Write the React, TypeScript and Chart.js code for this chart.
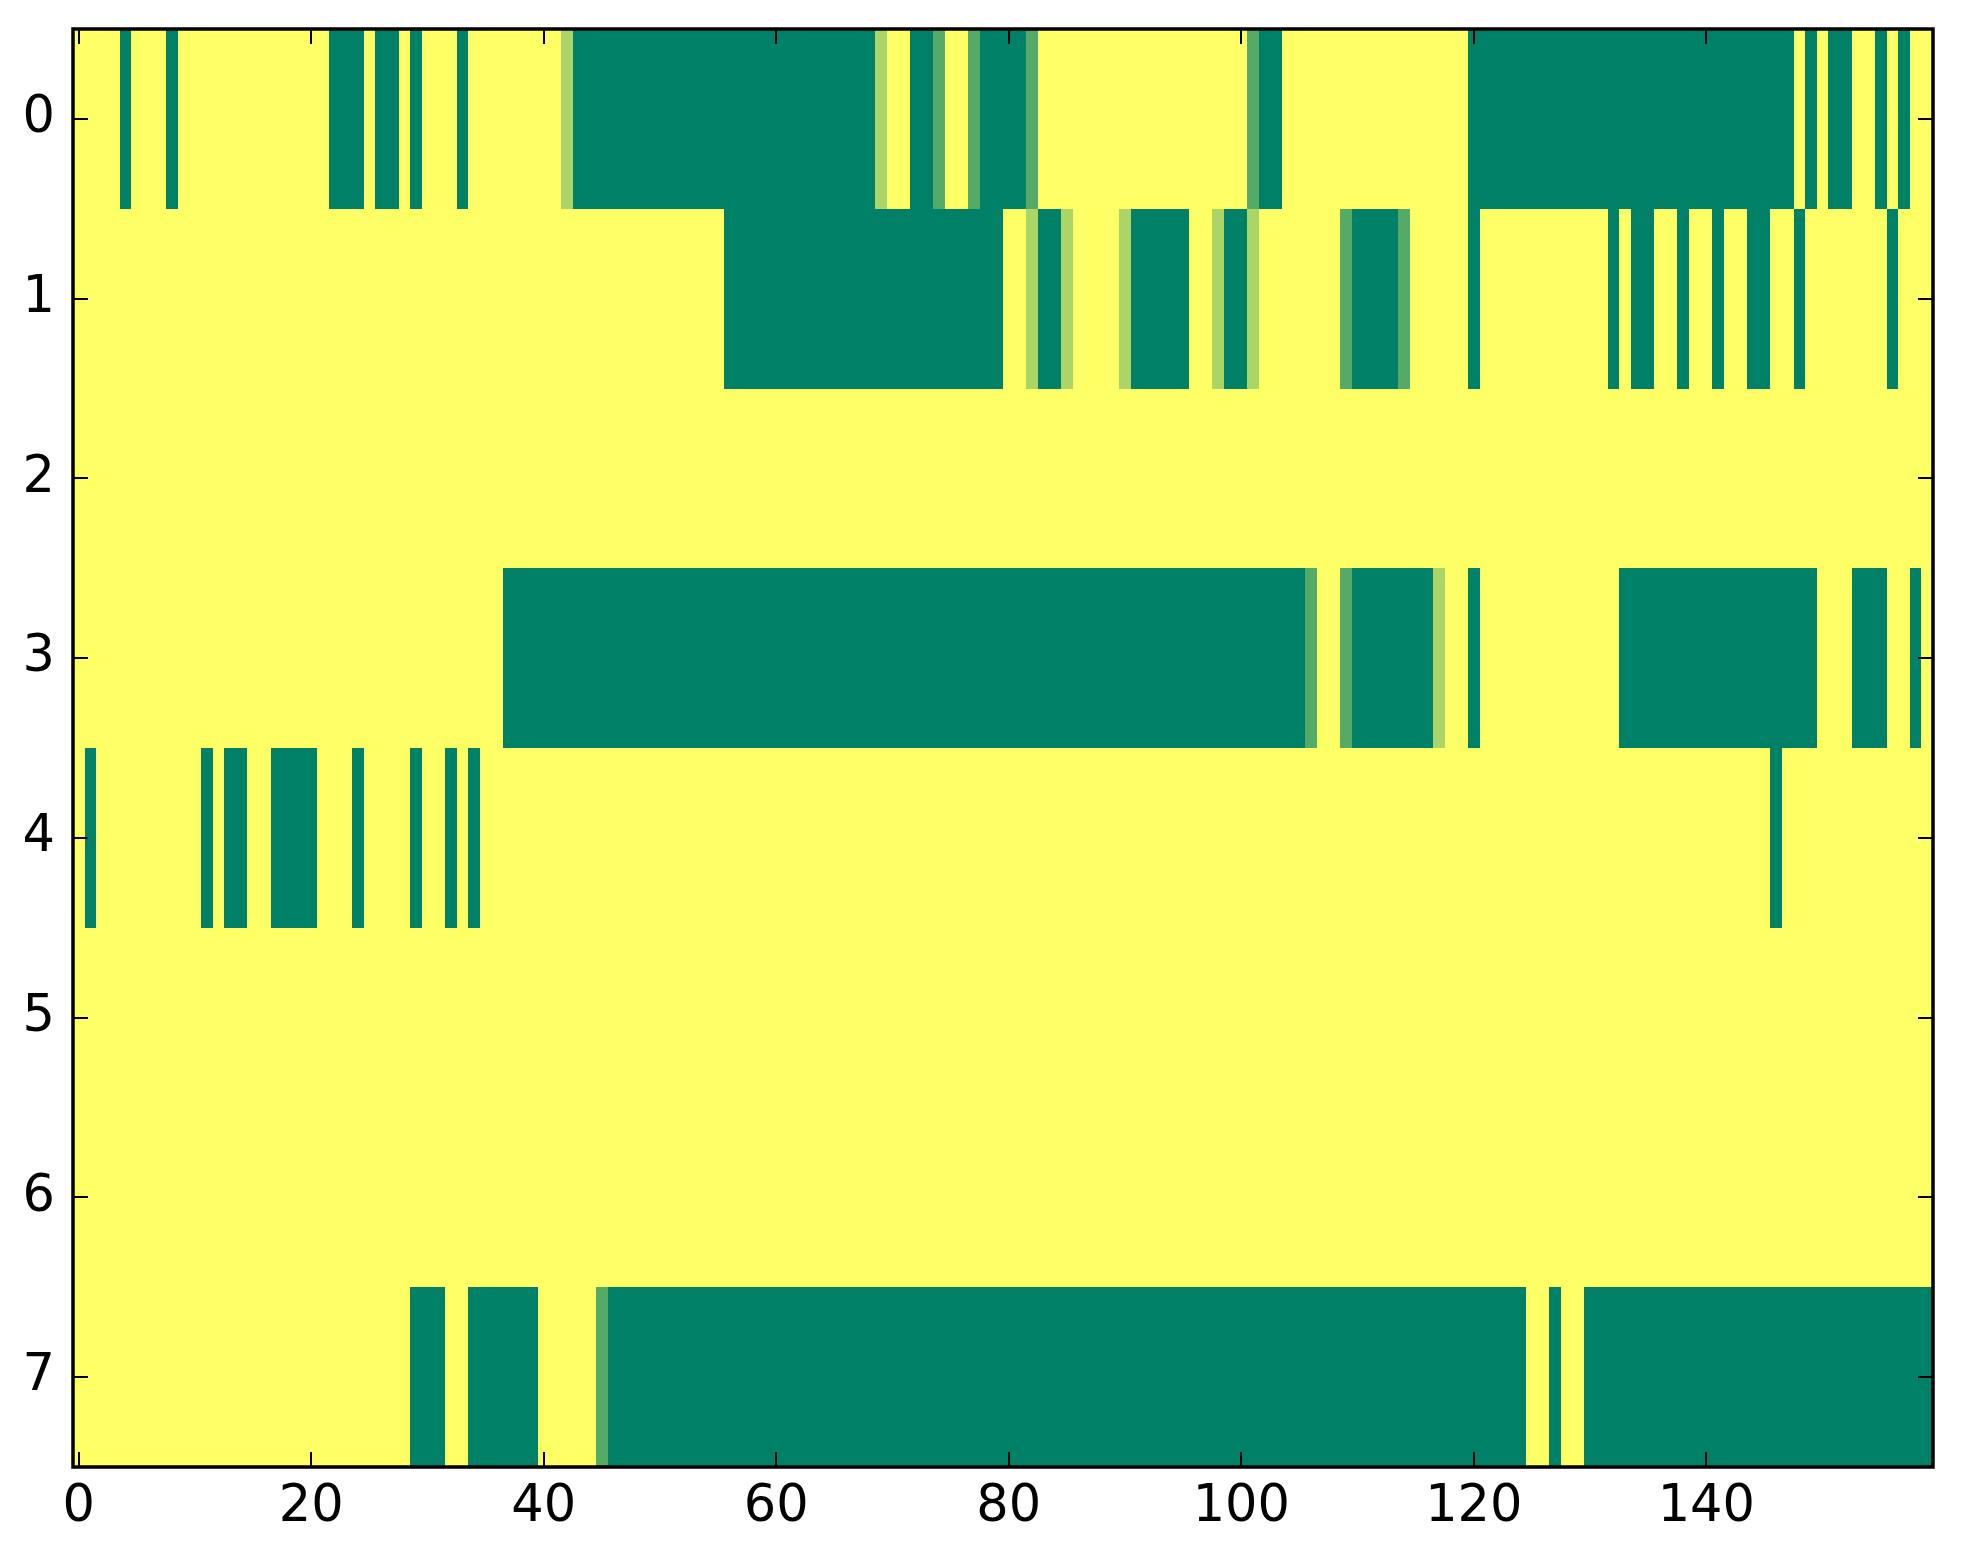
import React, { useEffect, useRef } from "react";
import { Chart, registerables } from "chart.js";

Chart.register(...registerables);

// ---- data ----
const nCols = 160;
const rowIndices = [0, 1, 2, 3, 4, 5, 6, 7];
const xTickValues = [0, 20, 40, 60, 80, 100, 120, 140];
const yTickValues = [0, 1, 2, 3, 4, 5, 6, 7];

// run-length encoded rows: [value, count]
const row0Runs: [number, number][] = [
  [1, 4], [0, 1], [1, 3], [0, 1], [1, 13], [0, 3], [1, 1], [0, 2], [1, 1], [0, 1],
  [1, 3], [0, 1], [1, 8], [0.67, 1], [0, 26], [0.67, 1], [1, 2], [0, 2], [0.33, 1], [1, 2],
  [0.33, 1], [0, 4], [0.33, 1], [1, 18], [0.33, 1], [0, 2], [1, 16], [0, 28], [1, 1], [0, 1],
  [1, 1], [0, 2], [1, 2], [0, 1], [1, 1], [0, 1], [1, 2],
];
const row1Runs: [number, number][] = [
  [1, 56], [0, 24], [1, 2], [0.67, 1], [0, 2], [0.67, 1], [1, 4], [0.67, 1], [0, 5], [1, 2],
  [0.67, 1], [0, 2], [0.67, 1], [1, 7], [0.33, 1], [0, 4], [0.33, 1], [1, 5], [0, 1], [1, 11],
  [0, 1], [1, 1], [0, 2], [1, 2], [0, 1], [1, 2], [0, 1], [1, 2], [0, 2], [1, 2],
  [0, 1], [1, 7], [0, 1], [1, 3],
];
const row2Runs: [number, number][] = [[1, 160]];
const row3Runs: [number, number][] = [
  [1, 37], [0, 69], [0.33, 1], [1, 2], [0.33, 1], [0, 7], [0.67, 1], [1, 2], [0, 1], [1, 12],
  [0, 17], [1, 3], [0, 3], [1, 2], [0, 1], [1, 1],
];
const row4Runs: [number, number][] = [
  [1, 1], [0, 1], [1, 9], [0, 1], [1, 1], [0, 2], [1, 2], [0, 4], [1, 3], [0, 1],
  [1, 4], [0, 1], [1, 2], [0, 1], [1, 1], [0, 1], [1, 111], [0, 1], [1, 13],
];
const row5Runs: [number, number][] = [[1, 160]];
const row6Runs: [number, number][] = [[1, 160]];
const row7Runs: [number, number][] = [
  [1, 29], [0, 3], [1, 2], [0, 6], [1, 5], [0.33, 1], [0, 79], [1, 2], [0, 1], [1, 2], [0, 30],
];

const allRuns = [row0Runs, row1Runs, row2Runs, row3Runs, row4Runs, row5Runs, row6Runs, row7Runs];

function expandRuns(runs: [number, number][]): number[] {
  const out: number[] = [];
  for (const [v, n] of runs) for (let i = 0; i < n; i++) out.push(v);
  return out.slice(0, nCols);
}

// matplotlib "summer" colormap
function summer(v: number): string {
  const r = Math.round(255 * v);
  const g = Math.round(255 * (0.5 + 0.5 * v));
  const b = Math.round(255 * 0.4);
  return `rgb(${r},${g},${b})`;
}

const W = 1963;
const H = 1564;
const FONT = "'DejaVu Sans', sans-serif";

export default function App() {
  const canvasRef = useRef<HTMLCanvasElement | null>(null);

  useEffect(() => {
    document.body.style.margin = "0";
    const canvas = canvasRef.current;
    if (!canvas) return;

    const cells: { x: number; y: number; v: number }[] = [];
    rowIndices.forEach((r) => {
      const vals = expandRuns(allRuns[r]);
      vals.forEach((v, c) => cells.push({ x: c, y: r, v }));
    });

    const heatmapPlugin = {
      id: "heatmap",
      beforeDatasetsDraw(chart: any) {
        const ctx = chart.ctx;
        const xs = chart.scales.x;
        const ys = chart.scales.y;
        const data = chart.data.datasets[0].data as any[];
        ctx.save();
        for (const d of data) {
          const x0 = Math.round(xs.getPixelForValue(d.x - 0.5));
          const x1 = Math.round(xs.getPixelForValue(d.x + 0.5));
          const y0 = Math.round(ys.getPixelForValue(d.y - 0.5));
          const y1 = Math.round(ys.getPixelForValue(d.y + 0.5));
          ctx.fillStyle = summer(d.v);
          ctx.fillRect(Math.min(x0, x1), Math.min(y0, y1), Math.abs(x1 - x0), Math.abs(y1 - y0));
        }
        ctx.restore();
      },
      afterDraw(chart: any) {
        const ctx = chart.ctx;
        const { left, right, top, bottom } = chart.chartArea;
        const xs = chart.scales.x;
        const ys = chart.scales.y;
        const tl = 15;
        ctx.save();
        ctx.strokeStyle = "#000";
        ctx.lineWidth = 2;
        ctx.beginPath();
        for (const t of xTickValues) {
          const px = Math.round(xs.getPixelForValue(t));
          ctx.moveTo(px, bottom);
          ctx.lineTo(px, bottom - tl);
          ctx.moveTo(px, top);
          ctx.lineTo(px, top + tl);
        }
        for (const t of yTickValues) {
          const py = Math.round(ys.getPixelForValue(t));
          ctx.moveTo(left, py);
          ctx.lineTo(left + tl, py);
          ctx.moveTo(right, py);
          ctx.lineTo(right - tl, py);
        }
        ctx.stroke();
        ctx.lineWidth = 3.5;
        ctx.strokeRect(left, top, right - left, bottom - top);
        ctx.restore();
      },
    };

    const chart = new Chart(canvas, {
      type: "scatter",
      data: {
        datasets: [
          {
            data: cells,
            pointRadius: 0,
            pointHoverRadius: 0,
          } as any,
        ],
      },
      options: {
        animation: false,
        responsive: false,
        devicePixelRatio: 1,
        events: [],
        layout: { padding: { top: 29, right: 30, left: 0, bottom: 0 } },
        plugins: { legend: { display: false }, tooltip: { enabled: false } },
        scales: {
          x: {
            type: "linear",
            min: -0.5,
            max: nCols - 0.5,
            grid: { display: false, drawTicks: false },
            border: { display: false },
            afterBuildTicks: (scale: any) => {
              scale.ticks = xTickValues.map((v) => ({ value: v }));
            },
            afterFit: (scale: any) => {
              scale.height = 97;
              scale.paddingLeft = 0;
              scale.paddingRight = 0;
            },
            ticks: {
              autoSkip: false,
              maxRotation: 0,
              padding: 10,
              color: "#000",
              font: { family: FONT, size: 51 },
              callback: (v: any) => String(v),
            },
          },
          y: {
            type: "linear",
            reverse: true,
            min: -0.5,
            max: rowIndices.length - 0.5,
            grid: { display: false, drawTicks: false },
            border: { display: false },
            afterBuildTicks: (scale: any) => {
              scale.ticks = yTickValues.map((v) => ({ value: v }));
            },
            afterFit: (scale: any) => {
              scale.width = 73;
              scale.paddingTop = 0;
              scale.paddingBottom = 0;
            },
            ticks: {
              autoSkip: false,
              padding: 18,
              color: "#000",
              font: { family: FONT, size: 51 },
              callback: (v: any) => String(v),
            },
          },
        },
      },
      plugins: [heatmapPlugin],
    });

    return () => {
      chart.destroy();
    };
  }, []);

  return (
    <div style={{ width: W, height: H, background: "#fff" }}>
      <canvas ref={canvasRef} width={W} height={H} style={{ display: "block", width: W, height: H }} />
    </div>
  );
}
